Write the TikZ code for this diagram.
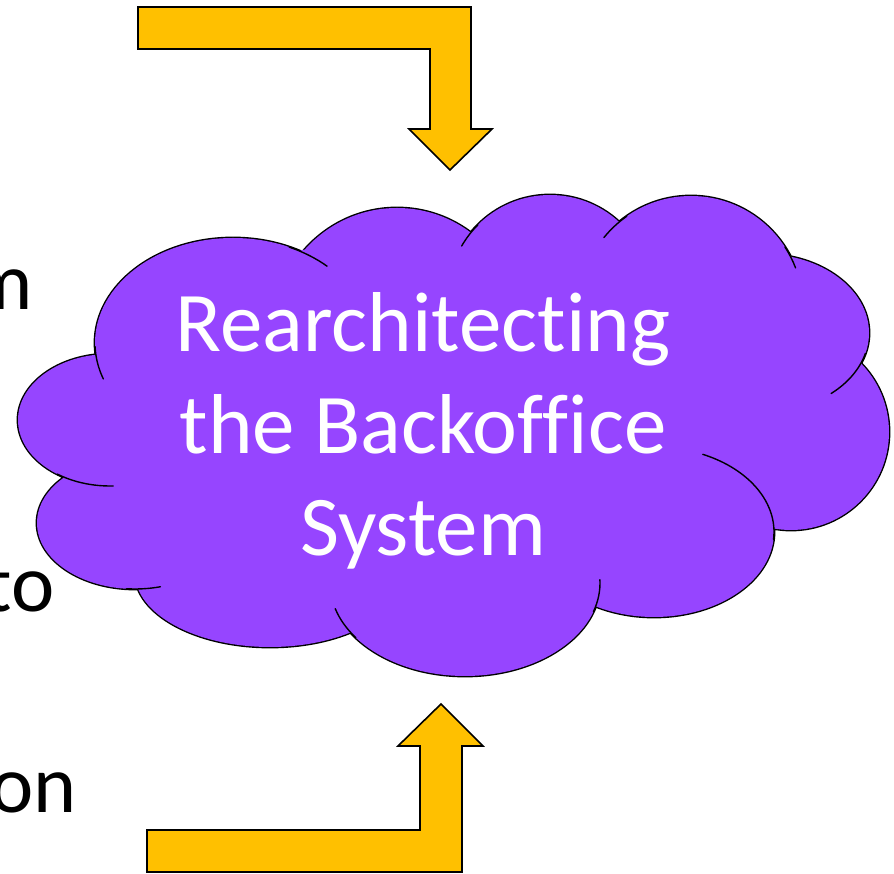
\documentclass[tikz,border=0pt]{standalone}
\usepackage{fontspec}
\setmainfont{Carlito}[Ligatures=NoCommon,RawFeature={-liga;-clig;-calt;-dlig}]
\definecolor{cloudpurple}{RGB}{150,69,255}
\definecolor{arrowgold}{RGB}{255,192,0}

% the puffs of the cloud, one ellipse each
\newcommand\cloudpuffs{
  (233,530) ellipse [x radius=138,y radius=105]
  (397,542) ellipse [x radius=123,y radius=123]
  (550,576) ellipse [x radius=102,y radius=102]
  (691,565) ellipse [x radius=112,y radius=112]
  (763,540) ellipse [x radius=106,y radius=79]
  (791,441) ellipse [x radius=98,y radius=98]
  (654,341) ellipse [x radius=120,y radius=85]
  (465,290) ellipse [x radius=135,y radius=93]
  (270,300) ellipse [x radius=135,y radius=74]
  (135,350) ellipse [x radius=98,y radius=66]
  (110,453) ellipse [x radius=92,y radius=66]}

\begin{document}
\begin{tikzpicture}[x=1pt,y=1pt,
    blockarrow/.style={fill=arrowgold,draw=black,line width=1.6pt,line join=miter},
    puffline/.style={draw=black,line width=2.8pt},
    stub/.style={draw=black,line width=1.4pt,line cap=round}]

      \useasboundingbox (0,0) rectangle (894,873);
      \clip (0,0) rectangle (894,873);

      % cut off words on the left
      \begin{scope}[every node/.style={inner sep=0pt,anchor=base east,font=\fontsize{82}{102}\selectfont}]
        \node (m)  at (33,563) {m};
        \node (to) at (55,261) {to};
        \node (on) at (77,61)  {on};
      \end{scope}

      % cloud
      \path[puffline,fill=cloudpurple] \cloudpuffs;
      \fill[cloudpurple] \cloudpuffs;
      \fill[cloudpurple] (97,518) -- (302,623) -- (471,641) -- (619,651) -- (791,616) -- (861,510)
        -- (772,345) -- (594,270) -- (350,243) -- (137,285) -- (63,396) -- cycle;

      \begin{scope}[every path/.style={stub}]
        \path (233,530) ++(66:138 and 105)   arc[start angle=66,end angle=47,x radius=138,y radius=105];
        \path (233,530) ++(-160:138 and 105) arc[start angle=-160,end angle=-178,x radius=138,y radius=105];
        \path (550,576) ++(150:102 and 102)  arc[start angle=150,end angle=135,x radius=102,y radius=102];
        \path (691,565) ++(141:112 and 112)  arc[start angle=141,end angle=125,x radius=112,y radius=112];
        \path (691,565) ++(33:112 and 112)   arc[start angle=33,end angle=21,x radius=112,y radius=112];
        \path (763,540) ++(-15:106 and 79)   arc[start angle=-15,end angle=-50,x radius=106,y radius=79];
        \path (654,341) ++(66:120 and 85)    arc[start angle=66,end angle=-5,x radius=120,y radius=85];
        \path (465,290) ++(2:135 and 93)     arc[start angle=2,end angle=-18,x radius=135,y radius=93];
        \path (465,290) ++(-144:135 and 93)  arc[start angle=-144,end angle=-164,x radius=135,y radius=93];
        \path (135,350) ++(-75:98 and 66)    arc[start angle=-75,end angle=-95,x radius=98,y radius=66];
        \path (110,453) ++(-88:92 and 66)    arc[start angle=-88,end angle=-125,x radius=92,y radius=66];
      \end{scope}

      \node[align=center,text=white,font=\fontsize{85}{102}\selectfont] (sys) at (423,442)
        {Rearchitecting\\the Backoffice\\System};

      % block arrows
      \draw[blockarrow] (138,866) -- (471,866) -- (471,744) -- (492,744) -- (450,703)
        -- (409,744) -- (430,744) -- (430,824) -- (138,824) -- cycle;
      \draw[blockarrow] (147,1) -- (462,1) -- (462,127) -- (483,127) -- (441,169)
        -- (398,127) -- (420,127) -- (420,43) -- (147,43) -- cycle;

    \end{tikzpicture}
\end{document}
